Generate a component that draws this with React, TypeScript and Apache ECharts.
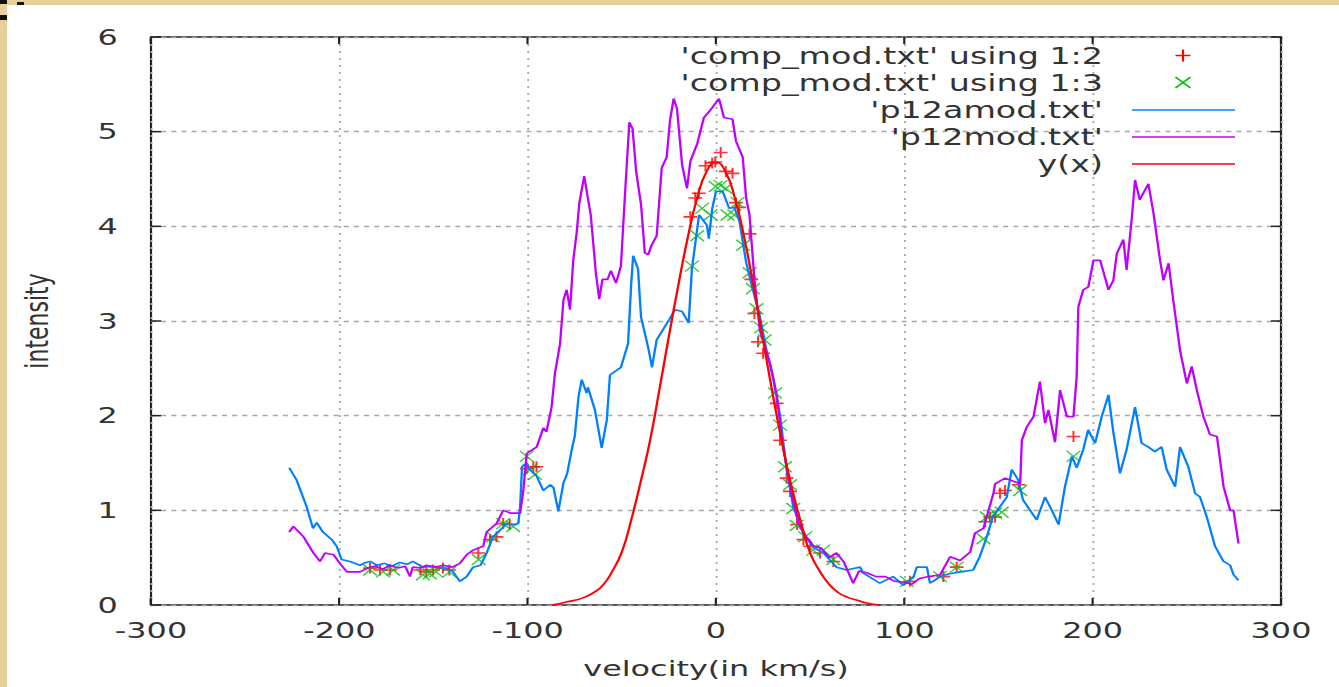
import React, { useEffect, useRef } from "react";
import * as echarts from "echarts";

// ---------------- data ----------------
const xTicks = [-300, -200, -100, 0, 100, 200, 300];
const yTicks = [0, 1, 2, 3, 4, 5, 6];

const legendNames = [
  "'comp_mod.txt' using 1:2",
  "'comp_mod.txt' using 1:3",
  "'p12amod.txt'",
  "'p12mod.txt'",
  "y(x)",
];
const seriesColors = ["#ff0000", "#00c000", "#0080ff", "#c000ff", "#ff0000"];

// comp_mod.txt using 1:2 (red +)
const comp12: number[][] = [
  [-183.7, 0.39], [-178.4, 0.37], [-173, 0.37], [-157, 0.37], [-153.8, 0.35], [-150.2, 0.37],
  [-145, 0.39], [-141.6, 0.37], [-126.2, 0.55], [-120, 0.69], [-116.5, 0.72], [-113, 0.86],
  [-109.5, 0.85], [-100.5, 1.44], [-97, 1.46], [-95.3, 1.46],
  [-13.6, 4.1], [-11, 4.3], [-9.1, 4.35], [-5.6, 4.64], [-2, 4.67], [-0.4, 4.68], [2.5, 4.78],
  [5.2, 4.58], [8.8, 4.56], [10.6, 4.25], [12.3, 4.2], [17.8, 3.92], [18.7, 3.44], [20.4, 3.08],
  [22.3, 2.78], [25, 2.66], [32.2, 2.13], [34, 1.74], [37.5, 1.34], [39.3, 1.2], [43, 0.85],
  [46.4, 0.69], [50, 0.62], [55.2, 0.55], [62.3, 0.46],
  [103, 0.25], [120.7, 0.3], [127.8, 0.4], [142.9, 0.88], [145.5, 0.93], [148.2, 0.93],
  [150.8, 1.18], [153.5, 1.21], [160.7, 1.27], [189.8, 1.78],
];

// comp_mod.txt using 1:3 (green x)
const comp13: number[][] = [
  [-183.7, 0.37], [-176.7, 0.35], [-171.4, 0.37], [-155.6, 0.32], [-152, 0.33], [-148.6, 0.35],
  [-141.6, 0.35], [-126, 0.48], [-118.4, 0.72], [-113, 0.86], [-107.7, 0.83], [-100.5, 1.57],
  [-98.8, 1.43], [-96, 1.38],
  [-12.8, 3.58], [-10, 3.9], [-7.4, 4.19], [-2.9, 4.12], [-0.2, 4.42], [2.5, 4.43], [5.2, 4.4],
  [6.1, 4.12], [9.7, 4.12], [11.4, 4.25], [14.4, 3.8], [17.8, 3.51], [19.6, 3.34], [21.5, 3.13],
  [24, 2.93], [25.8, 2.8], [31.3, 2.24], [34, 1.9], [36.6, 1.46], [39.3, 1.27], [41, 1.02],
  [42.8, 0.84], [47.3, 0.72], [51.6, 0.58], [57, 0.58], [62.3, 0.48],
  [101.3, 0.25], [118.9, 0.3], [127.8, 0.4], [142, 0.7], [143.8, 0.93], [148.2, 0.97],
  [151.7, 0.98], [161.5, 1.21], [189.8, 1.57],
];

// p12amod.txt (blue)
const p12amod: number[][] = [
  [-226.6, 1.45], [-222.7, 1.32], [-217.4, 1.04], [-214, 0.81], [-212, 0.87], [-208.7, 0.77],
  [-204, 0.69], [-201.4, 0.62], [-198.8, 0.48], [-194.4, 0.46], [-189, 0.42], [-186, 0.45],
  [-183.7, 0.46], [-180, 0.42], [-176, 0.44], [-172, 0.41], [-168, 0.45], [-164, 0.43],
  [-161, 0.46], [-155.6, 0.4], [-150, 0.41], [-145, 0.39], [-140, 0.36], [-136, 0.25],
  [-132.4, 0.3], [-129, 0.4], [-125, 0.42], [-121.8, 0.55], [-118.4, 0.72], [-114.7, 0.79],
  [-111, 0.86], [-107, 0.85], [-105, 0.86], [-104, 1.04], [-103, 1.46], [-100.5, 1.5],
  [-98.8, 1.43], [-95.2, 1.36], [-91.7, 1.21], [-88, 1.27], [-86.3, 1.24], [-83.7, 0.99],
  [-81, 1.29], [-79, 1.39], [-76.6, 1.64], [-75, 1.78], [-73, 2.2], [-71.3, 2.38], [-68.7, 2.24],
  [-68, 2.3], [-64.3, 2.06], [-60.7, 1.66], [-58, 1.95], [-56.3, 2.43], [-50.5, 2.51],
  [-46.7, 2.76], [-45, 3.4], [-44, 3.69], [-41.4, 3.55], [-39.8, 3.04], [-36, 2.72], [-34, 2.51],
  [-31.5, 2.8], [-25, 3.01], [-21.7, 3.12], [-18, 3.1], [-14.5, 2.98], [-12.8, 3.55], [-9, 4.12],
  [-4.8, 4.01], [-3.8, 3.87], [-2, 4.19], [0, 4.37], [3.5, 4.37], [7, 4.19], [9.7, 4.2],
  [12.5, 4.05], [16, 3.62], [19.6, 3.33], [23.3, 3.05], [26.8, 2.69], [30.3, 2.41], [34, 2.0],
  [37.5, 1.43], [41, 1.04], [46.2, 0.76], [51.6, 0.61], [57, 0.55], [64, 0.4], [69.4, 0.37],
  [76.5, 0.4], [78, 0.34], [87, 0.23], [94, 0.3], [99.5, 0.21], [104.8, 0.29], [106.6, 0.4],
  [112, 0.4], [113.6, 0.23], [119, 0.3], [124, 0.33], [129.6, 0.35], [136.6, 0.37], [140, 0.51],
  [143.8, 0.72], [147, 0.93], [150.8, 1.04], [154.4, 1.14], [157, 1.43], [160.5, 1.32],
  [163, 1.11], [166.8, 1.0], [170.3, 0.9], [174.7, 1.14], [178.3, 1.0], [181.9, 0.85],
  [185.3, 1.25], [189, 1.57], [191.5, 1.45], [195, 1.64], [197.6, 1.85], [201.3, 1.71],
  [204.8, 1.99], [208.4, 2.22], [211, 1.82], [214.5, 1.39], [218, 1.64], [222.5, 2.09],
  [226, 1.71], [229.5, 1.67], [233, 1.62], [236.6, 1.67], [239.3, 1.43], [243.8, 1.25],
  [246.4, 1.67], [250.8, 1.46], [254.4, 1.18], [257, 1.14], [260.6, 0.93], [265, 0.62],
  [269.5, 0.46], [273, 0.42], [274.8, 0.32], [277.4, 0.26],
];

// p12mod.txt (purple)
const p12mod: number[][] = [
  [-226.6, 0.77], [-224.4, 0.83], [-219, 0.72], [-213.8, 0.55], [-210.3, 0.46], [-207.6, 0.55],
  [-203, 0.53], [-199.7, 0.44], [-196, 0.35], [-189, 0.35], [-185, 0.39], [-181, 0.41],
  [-177, 0.38], [-173, 0.42], [-169, 0.39], [-165, 0.41], [-162.5, 0.3], [-161, 0.4], [-157, 0.39],
  [-153.8, 0.42], [-149, 0.4], [-145, 0.42], [-140, 0.4], [-136, 0.44], [-132.4, 0.53],
  [-129, 0.58], [-123.6, 0.62], [-121.8, 0.77], [-116.5, 0.86], [-113, 1.0], [-109, 0.97],
  [-104, 0.97], [-102.3, 1.21], [-100.5, 1.6], [-95.2, 1.67], [-91.7, 1.87], [-90, 1.83],
  [-87.3, 2.09], [-85.5, 2.45], [-82.8, 2.76], [-81, 3.22], [-79.3, 3.33], [-77.5, 3.12],
  [-75.8, 3.64], [-74, 3.93], [-72.6, 4.24], [-70, 4.53], [-66.5, 4.12], [-63.8, 3.51],
  [-62, 3.23], [-60.3, 3.44], [-57.6, 3.44], [-55.8, 3.53], [-53.1, 3.4], [-50.5, 3.58],
  [-47.9, 4.48], [-46, 5.1], [-44.3, 5.03], [-42.4, 4.58], [-39.8, 4.23], [-37.8, 3.72],
  [-36, 3.7], [-34.2, 3.8], [-31.5, 3.9], [-28.8, 4.62], [-26.2, 4.73], [-24.4, 5.12],
  [-22.5, 5.35], [-20.7, 5.24], [-18, 4.65], [-15.4, 4.4], [-13.6, 4.69], [-10, 4.87],
  [-6.4, 5.15], [-3.7, 5.21], [1.6, 5.35], [4.2, 5.15], [8.8, 5.13], [10.6, 4.9], [14.2, 4.73],
  [16, 4.3], [17.8, 4.12], [20.4, 3.44], [23.3, 2.9], [28.7, 2.55], [32.4, 2.2], [35, 1.75],
  [38, 1.4], [41, 1.1], [44, 0.85], [48, 0.72], [52, 0.62], [56, 0.6], [60, 0.5], [64, 0.55],
  [68, 0.45], [72.8, 0.23], [76, 0.36], [80, 0.34], [85, 0.3], [90, 0.3], [95, 0.25], [100, 0.24],
  [104, 0.22], [108, 0.28], [113, 0.3], [119, 0.32], [124.3, 0.51], [129.6, 0.47], [135, 0.56],
  [137.5, 0.76], [142, 0.81], [147.3, 1.18], [148.2, 1.28], [153.5, 1.34], [161.5, 1.28],
  [162.4, 1.74], [165, 1.88], [168.6, 1.99], [172, 2.36], [174.7, 1.92], [176.5, 2.06],
  [180, 1.72], [182.7, 2.27], [186.3, 1.99], [189.8, 1.99], [191.5, 2.41], [192.4, 3.15],
  [195, 3.33], [197.7, 3.36], [200.4, 3.64], [204, 3.64], [208.4, 3.33], [211, 3.43],
  [212.8, 3.71], [216.3, 3.86], [218, 3.54], [220.7, 4.07], [222.5, 4.49], [225, 4.28],
  [229.6, 4.45], [232.3, 4.14], [235.8, 3.64], [237.6, 3.43], [240.3, 3.61], [243, 3.19],
  [246.4, 2.69], [250, 2.34], [252.6, 2.52], [255.3, 2.27], [258.8, 1.99], [262.3, 1.8],
  [266, 1.78], [269.5, 1.25], [273, 1.0], [274.8, 1.0], [277.4, 0.65],
];

// y(x) (red curve)
const yxX = [-87, -80, -75, -70, -65, -60, -55, -50, -45, -40, -35, -30, -25, -20, -15, -10, -5, 0,
  5, 10, 15, 20, 25, 30, 35, 40, 45, 50, 55, 60, 65, 70, 75, 80, 87];
const yxY = [0.0, 0.03, 0.05, 0.08, 0.13, 0.21, 0.36, 0.56, 0.9, 1.3, 1.74, 2.28, 2.84, 3.38, 3.88,
  4.3, 4.58, 4.68, 4.58, 4.3, 3.88, 3.36, 2.8, 2.24, 1.72, 1.26, 0.88, 0.55, 0.36, 0.22, 0.13,
  0.08, 0.05, 0.02, 0.0];

// ---------------- layout ----------------
const BASE_W = 924;
const H = 687;
const SX = 1339 / BASE_W; // the reference is a horizontally stretched gnuplot image
const bx = (v: number) => v / SX;
const FONT = "DejaVu Sans";
const TXT = "#333333";
const TICK_LEN = 7;

const PLUS = "path://M0,6L10,6M5,0L5,12";
const CROSS = "path://M0,0L10,12M10,0L0,12";

function legendGraphics() {
  const rowsY = [55.5, 82.5, 110, 137, 164];
  const els: any[] = [];
  legendNames.forEach((name, i) => {
    const y = rowsY[i];
    els.push({
      type: "text",
      x: bx(1103),
      y,
      z: 100,
      style: { text: name, fontFamily: FONT, fontSize: 23, fill: TXT, align: "right", verticalAlign: "middle" },
    });
    const c = seriesColors[i];
    const cx = bx(1183);
    if (i === 0) {
      els.push({ type: "polyline", z: 100, shape: { points: [[cx - 5.2, y], [cx + 5.2, y]] }, style: { stroke: c, lineWidth: 1.5, fill: "none" } });
      els.push({ type: "polyline", z: 100, shape: { points: [[cx, y - 6], [cx, y + 6]] }, style: { stroke: c, lineWidth: 1.5, fill: "none" } });
    } else if (i === 1) {
      els.push({ type: "polyline", z: 100, shape: { points: [[cx - 5.2, y - 5.5], [cx + 5.2, y + 5.5]] }, style: { stroke: c, lineWidth: 1.3, fill: "none" } });
      els.push({ type: "polyline", z: 100, shape: { points: [[cx + 5.2, y - 5.5], [cx - 5.2, y + 5.5]] }, style: { stroke: c, lineWidth: 1.3, fill: "none" } });
    } else {
      els.push({ type: "polyline", z: 100, shape: { points: [[bx(1132), y], [bx(1235), y]] }, style: { stroke: c, lineWidth: 1.6, fill: "none" } });
    }
  });
  return els;
}

function xAxisAt(position: string, main: boolean): any {
  return {
    type: "value",
    min: xTicks[0],
    max: xTicks[xTicks.length - 1],
    interval: 100,
    position,
    axisLine: { show: false, onZero: false },
    axisTick: { show: true, inside: true, length: TICK_LEN, lineStyle: { color: "#222", width: 1.5 } },
    axisLabel: main ? { fontSize: 22, color: TXT, margin: 14, fontFamily: FONT } : { show: false },
    splitLine: main
      ? { show: true, lineStyle: { color: "#a8a8a8", type: [2, 5], width: 1.3 } }
      : { show: false },
    ...(main
      ? {
          name: "velocity(in km/s)",
          nameLocation: "middle",
          nameGap: 52,
          nameTextStyle: { fontSize: 22, color: TXT, fontFamily: FONT },
        }
      : {}),
  };
}

function buildOption(): any {
  const yxData = yxX.map((x, i) => [x, yxY[i]]);
  return {
    animation: false,
    backgroundColor: "#e8d09a",
    grid: {
      left: bx(151),
      right: BASE_W - bx(1281),
      top: 37,
      bottom: H - 605,
      show: true,
      borderColor: "#222",
      borderWidth: 1.5,
    },
    xAxis: [xAxisAt("bottom", true), xAxisAt("top", false)],
    yAxis: {
      type: "value",
      min: yTicks[0],
      max: yTicks[yTicks.length - 1],
      interval: 1,
      position: "left",
      axisLine: { show: false, onZero: false },
      axisTick: { show: false },
      axisLabel: { fontSize: 22, color: TXT, margin: 23, fontFamily: FONT },
      splitLine: { show: true, lineStyle: { color: "#a8a8a8", type: [3.5, 3.5], width: 1.3 } },
      name: "intensity",
      nameLocation: "middle",
      nameGap: 68,
      nameTextStyle: { fontSize: 22, color: TXT, fontFamily: FONT },
    },
    graphic: [
      { type: "rect", z: -100, silent: true, shape: { x: bx(7), y: 5, width: BASE_W, height: H }, style: { fill: "#ffffff" } },
      { type: "rect", z: -90, silent: true, shape: { x: 0, y: 0, width: bx(7), height: 4 }, style: { fill: "#111" } },
      { type: "rect", z: -90, silent: true, shape: { x: bx(17), y: 2, width: bx(7), height: 3 }, style: { fill: "#111" } },
      { type: "rect", z: -90, silent: true, shape: { x: 0, y: 15, width: bx(7), height: 5 }, style: { fill: "#111" } },
      ...legendGraphics(),
    ],
    series: [
      {
        // y-axis ticks on the left and right borders (gnuplot mirror ticks), placed by the y scale
        type: "custom",
        silent: true,
        data: yTicks.map((v) => [xTicks[0], v]),
        renderItem: (params: any, api: any) => {
          const p = api.coord([xTicks[0], api.value(1)]);
          const cs = params.coordSys;
          const y = p[1];
          return {
            type: "group",
            children: [
              { type: "line", shape: { x1: cs.x, y1: y, x2: cs.x + TICK_LEN, y2: y }, style: { stroke: "#222", lineWidth: 1.5 } },
              { type: "line", shape: { x1: cs.x + cs.width - TICK_LEN, y1: y, x2: cs.x + cs.width, y2: y }, style: { stroke: "#222", lineWidth: 1.5 } },
            ],
          };
        },
        z: 6,
      },
      {
        name: legendNames[0],
        type: "scatter",
        data: comp12,
        symbol: PLUS,
        symbolSize: [9.5, 11],
        itemStyle: { color: "transparent", borderColor: seriesColors[0], borderWidth: 1.5 },
      },
      {
        name: legendNames[1],
        type: "scatter",
        data: comp13,
        symbol: CROSS,
        symbolSize: [9.5, 11],
        itemStyle: { color: "transparent", borderColor: seriesColors[1], borderWidth: 1.2 },
      },
      {
        name: legendNames[2],
        type: "line",
        data: p12amod,
        showSymbol: false,
        lineStyle: { color: seriesColors[2], width: 1.6 },
      },
      {
        name: legendNames[3],
        type: "line",
        data: p12mod,
        showSymbol: false,
        lineStyle: { color: seriesColors[3], width: 1.6 },
      },
      {
        name: legendNames[4],
        type: "line",
        data: yxData,
        smooth: true,
        showSymbol: false,
        lineStyle: { color: seriesColors[4], width: 1.6 },
      },
    ],
  };
}

export default function App() {
  const ref = useRef<HTMLDivElement | null>(null);
  useEffect(() => {
    if (!ref.current) return;
    const chart = echarts.init(ref.current, null, { renderer: "svg" });
    chart.setOption(buildOption());
    return () => chart.dispose();
  }, []);
  return (
    <div
      ref={ref}
      style={{
        position: "fixed",
        left: 0,
        top: 0,
        width: BASE_W,
        height: H,
        transform: `scaleX(${SX})`,
        transformOrigin: "0 0",
      }}
    />
  );
}
